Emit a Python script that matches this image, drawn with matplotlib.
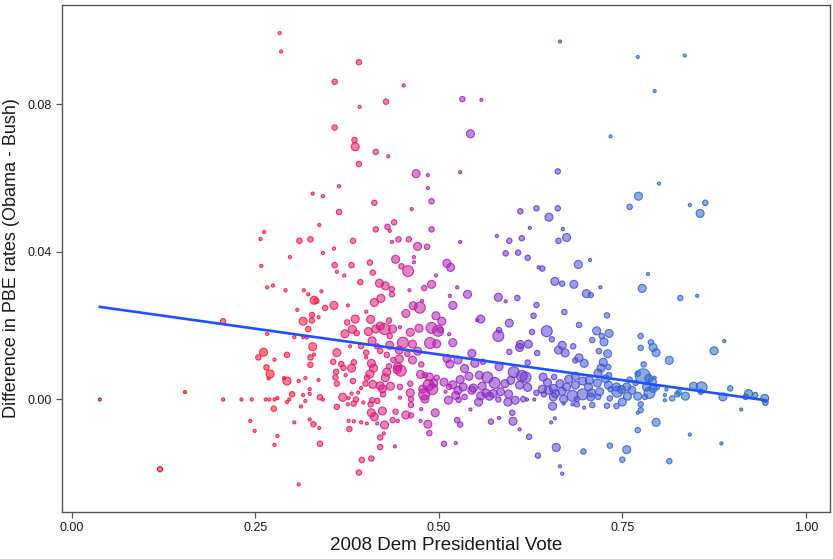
import matplotlib
matplotlib.use("Agg")
import matplotlib.pyplot as plt
import numpy as np
from matplotlib.colors import LinearSegmentedColormap

# 2008 Dem presidential vote share (x), PBE rate difference (y), size class (population weight)
vote = [
    0.038, 0.154, 0.206, 0.120, 0.206, 0.283, 0.285, 0.358, 0.358, 0.364,
    0.364, 0.328, 0.342, 0.337, 0.262, 0.257, 0.310, 0.325, 0.357, 0.297,
    0.342, 0.258, 0.358, 0.361, 0.266, 0.274, 0.291, 0.316, 0.322, 0.340,
    0.330, 0.333, 0.357, 0.345, 0.307, 0.327, 0.336, 0.315, 0.327, 0.322,
    0.266, 0.303, 0.315, 0.320, 0.328, 0.261, 0.254, 0.361, 0.293, 0.276,
    0.325, 0.330, 0.356, 0.325, 0.265, 0.270, 0.360, 0.359, 0.268, 0.289,
    0.293, 0.309, 0.318, 0.336, 0.361, 0.324, 0.300, 0.315, 0.324, 0.338,
    0.342, 0.231, 0.245, 0.264, 0.269, 0.276, 0.280, 0.296, 0.293, 0.318,
    0.361, 0.275, 0.312, 0.243, 0.303, 0.324, 0.329, 0.337, 0.249, 0.280,
    0.276, 0.338, 0.309,
    0.391, 0.452, 0.428, 0.392, 0.385, 0.386, 0.414, 0.431, 0.391, 0.469,
    0.485, 0.485, 0.490, 0.412, 0.463, 0.439, 0.414, 0.430, 0.433, 0.490,
    0.383, 0.436, 0.445, 0.459, 0.471, 0.484,
    0.441, 0.466, 0.466, 0.449, 0.458, 0.381, 0.406, 0.410, 0.371, 0.496,
    0.393, 0.419, 0.427, 0.436, 0.490, 0.480, 0.460, 0.436, 0.421, 0.412,
    0.477, 0.376, 0.401, 0.465, 0.474, 0.455, 0.496, 0.386, 0.375, 0.407,
    0.432, 0.420, 0.414, 0.426, 0.437, 0.447, 0.473, 0.490, 0.499, 0.382,
    0.372, 0.388, 0.404, 0.433, 0.461, 0.409, 0.451, 0.394, 0.416, 0.433,
    0.464, 0.488, 0.497, 0.379, 0.420, 0.446, 0.471, 0.401, 0.429, 0.457,
    0.401, 0.438, 0.446, 0.464, 0.384, 0.408, 0.367, 0.432, 0.444, 0.476,
    0.370, 0.381, 0.411, 0.443, 0.448, 0.406, 0.429, 0.475, 0.481, 0.487,
    0.497, 0.373, 0.427, 0.402, 0.383, 0.400, 0.410, 0.420, 0.434, 0.447,
    0.461, 0.486, 0.493, 0.394, 0.423, 0.478, 0.491, 0.381, 0.390, 0.424,
    0.461, 0.480, 0.369, 0.377, 0.387, 0.409, 0.416, 0.447, 0.462, 0.481,
    0.376, 0.384, 0.397, 0.407, 0.423, 0.441, 0.462, 0.476, 0.408, 0.412,
    0.455, 0.462, 0.495, 0.377, 0.384, 0.394, 0.402, 0.416, 0.426, 0.437,
    0.444, 0.475, 0.485, 0.378, 0.487, 0.425, 0.420, 0.440, 0.420, 0.395,
    0.408, 0.391,
    0.532, 0.558, 0.543, 0.529, 0.611, 0.633, 0.624, 0.579, 0.596, 0.613,
    0.529,
    0.591, 0.608, 0.621, 0.636, 0.511, 0.516, 0.525, 0.515, 0.539, 0.581,
    0.591, 0.607, 0.519, 0.633, 0.629, 0.557, 0.552, 0.596, 0.504, 0.502,
    0.514, 0.582, 0.581, 0.627, 0.519, 0.611, 0.622, 0.610, 0.596, 0.634,
    0.511, 0.545, 0.515, 0.526, 0.535, 0.549, 0.560, 0.582, 0.621, 0.555,
    0.566, 0.576, 0.602, 0.613, 0.618, 0.598, 0.507, 0.529, 0.541, 0.519,
    0.533, 0.559, 0.547, 0.590, 0.610, 0.621, 0.514, 0.564, 0.574, 0.584,
    0.595, 0.526, 0.545, 0.509, 0.633, 0.523, 0.513, 0.527, 0.535, 0.557,
    0.569, 0.581, 0.604, 0.615, 0.620, 0.630, 0.554, 0.594, 0.543, 0.600,
    0.525, 0.529, 0.571, 0.582, 0.601, 0.610, 0.623, 0.507, 0.523, 0.635,
    0.665, 0.771, 0.734, 0.662, 0.760, 0.772, 0.662, 0.650, 0.669, 0.663,
    0.674,
    0.690, 0.706, 0.641, 0.658, 0.668, 0.684, 0.720, 0.701, 0.707, 0.671,
    0.729, 0.691, 0.647, 0.654, 0.715, 0.722, 0.732, 0.725, 0.709, 0.668,
    0.683, 0.663, 0.672, 0.718, 0.730, 0.691, 0.686, 0.698, 0.724, 0.721,
    0.731, 0.717, 0.732, 0.771, 0.642, 0.657, 0.686, 0.677, 0.696, 0.705,
    0.727, 0.760, 0.648, 0.665, 0.716, 0.768, 0.656, 0.674, 0.686, 0.704,
    0.731, 0.742, 0.756, 0.641, 0.649, 0.668, 0.682, 0.696, 0.708, 0.719,
    0.749, 0.743, 0.763, 0.734, 0.659, 0.643, 0.656, 0.670, 0.688, 0.707,
    0.717, 0.733, 0.757, 0.771, 0.750, 0.670, 0.682, 0.688, 0.698, 0.709,
    0.729, 0.742, 0.655, 0.771, 0.653, 0.658, 0.771, 0.660, 0.697, 0.733,
    0.756, 0.750, 0.665, 0.668,
    0.835, 0.794, 0.800, 0.842, 0.863, 0.856,
    0.785, 0.777, 0.829, 0.852, 0.775, 0.789, 0.792, 0.796, 0.775, 0.889,
    0.875, 0.814, 0.779, 0.778, 0.786, 0.794, 0.791, 0.783, 0.792, 0.787,
    0.797, 0.781, 0.810, 0.808, 0.808, 0.818, 0.825, 0.827, 0.836, 0.847,
    0.858, 0.857, 0.887, 0.897, 0.922, 0.931, 0.918, 0.944, 0.945, 0.775,
    0.775, 0.912, 0.796, 0.842, 0.885, 0.814,
]

pbe_diff = [
    0.0000, 0.0020, 0.0000, -0.0189, 0.0212, 0.0993, 0.0943, 0.0861, 0.0737, 0.0578,
    0.0508, 0.0558, 0.0551, 0.0473, 0.0454, 0.0435, 0.0430, 0.0434, 0.0409, 0.0386,
    0.0397, 0.0362, 0.0364, 0.0346, 0.0304, 0.0309, 0.0296, 0.0296, 0.0285, 0.0293,
    0.0269, 0.0267, 0.0255, 0.0248, 0.0243, 0.0229, 0.0223, 0.0212, 0.0214, 0.0191,
    0.0178, 0.0169, 0.0169, 0.0168, 0.0143, 0.0128, 0.0114, 0.0127, 0.0121, 0.0108,
    0.0114, 0.0122, 0.0102, 0.0094, 0.0087, 0.0069, 0.0075, 0.0060, 0.0057, 0.0058,
    0.0050, 0.0050, 0.0058, 0.0053, 0.0043, 0.0028, 0.0014, 0.0012, 0.0015, 0.0006,
    0.0000, 0.0000, 0.0000, 0.0000, 0.0000, 0.0000, 0.0004, 0.0000, -0.0007, -0.0004,
    -0.0020, -0.0025, -0.0019, -0.0058, -0.0062, -0.0054, -0.0067, -0.0077, -0.0085, -0.0099,
    -0.0123, -0.0120, -0.0230,
    0.0914, 0.0851, 0.0807, 0.0793, 0.0703, 0.0685, 0.0671, 0.0659, 0.0638, 0.0612,
    0.0608, 0.0573, 0.0537, 0.0533, 0.0516, 0.0480, 0.0461, 0.0468, 0.0457, 0.0461,
    0.0430, 0.0427, 0.0434, 0.0434, 0.0415, 0.0414,
    0.0380, 0.0386, 0.0372, 0.0361, 0.0348, 0.0364, 0.0371, 0.0344, 0.0336, 0.0336,
    0.0318, 0.0315, 0.0308, 0.0299, 0.0312, 0.0302, 0.0296, 0.0285, 0.0274, 0.0263,
    0.0267, 0.0255, 0.0238, 0.0254, 0.0249, 0.0233, 0.0227, 0.0218, 0.0209, 0.0217,
    0.0214, 0.0199, 0.0191, 0.0191, 0.0191, 0.0196, 0.0193, 0.0194, 0.0186, 0.0190,
    0.0178, 0.0180, 0.0184, 0.0172, 0.0182, 0.0159, 0.0154, 0.0145, 0.0144, 0.0147,
    0.0150, 0.0153, 0.0151, 0.0144, 0.0132, 0.0134, 0.0131, 0.0127, 0.0121, 0.0124,
    0.0114, 0.0107, 0.0110, 0.0107, 0.0101, 0.0098, 0.0096, 0.0090, 0.0089, 0.0095,
    0.0086, 0.0085, 0.0085, 0.0081, 0.0078, 0.0069, 0.0074, 0.0068, 0.0066, 0.0061,
    0.0059, 0.0066, 0.0059, 0.0059, 0.0050, 0.0043, 0.0041, 0.0037, 0.0036, 0.0034,
    0.0043, 0.0039, 0.0044, 0.0031, 0.0029, 0.0028, 0.0028, 0.0016, 0.0019, 0.0014,
    0.0018, 0.0014, 0.0006, 0.0004, 0.0000, -0.0002, -0.0004, 0.0005, 0.0001, 0.0001,
    -0.0013, -0.0011, -0.0008, -0.0013, -0.0031, -0.0033, -0.0015, -0.0026, -0.0036, -0.0047,
    -0.0042, -0.0043, -0.0036, -0.0058, -0.0059, -0.0062, -0.0065, -0.0065, -0.0069, -0.0056,
    -0.0058, -0.0058, -0.0067, -0.0080, -0.0091, -0.0092, -0.0103, -0.0127, -0.0129, -0.0164,
    -0.0160, -0.0198,
    0.0814, 0.0812, 0.0720, 0.0616, 0.0510, 0.0518, 0.0465, 0.0443, 0.0430, 0.0437,
    0.0427,
    0.0396, 0.0398, 0.0384, 0.0358, 0.0369, 0.0358, 0.0304, 0.0281, 0.0285, 0.0277,
    0.0266, 0.0275, 0.0255, 0.0256, 0.0227, 0.0218, 0.0215, 0.0207, 0.0212, 0.0188,
    0.0177, 0.0188, 0.0172, 0.0183, 0.0154, 0.0149, 0.0150, 0.0141, 0.0129, 0.0126,
    0.0111, 0.0125, 0.0096, 0.0107, 0.0084, 0.0098, 0.0102, 0.0089, 0.0100, 0.0066,
    0.0060, 0.0045, 0.0074, 0.0064, 0.0060, 0.0052, 0.0047, 0.0054, 0.0063, 0.0040,
    0.0034, 0.0036, 0.0031, 0.0043, 0.0039, 0.0033, 0.0034, 0.0018, 0.0016, 0.0021,
    0.0015, 0.0025, 0.0025, 0.0021, 0.0018, 0.0011, -0.0002, -0.0001, 0.0007, 0.0010,
    0.0009, 0.0000, -0.0002, 0.0001, 0.0000, 0.0000, -0.0007, -0.0007, -0.0027, -0.0036,
    -0.0056, -0.0068, -0.0060, -0.0050, -0.0059, -0.0081, -0.0101, -0.0120, -0.0118, -0.0152,
    0.0970, 0.0928, 0.0713, 0.0618, 0.0522, 0.0551, 0.0518, 0.0494, 0.0462, 0.0430,
    0.0439,
    0.0366, 0.0378, 0.0355, 0.0320, 0.0314, 0.0312, 0.0304, 0.0287, 0.0283, 0.0237,
    0.0228, 0.0202, 0.0185, 0.0163, 0.0186, 0.0172, 0.0179, 0.0156, 0.0161, 0.0147,
    0.0144, 0.0134, 0.0126, 0.0131, 0.0124, 0.0113, 0.0106, 0.0098, 0.0101, 0.0085,
    0.0088, 0.0072, 0.0066, 0.0070, 0.0061, 0.0061, 0.0063, 0.0055, 0.0050, 0.0052,
    0.0056, 0.0054, 0.0046, 0.0043, 0.0045, 0.0045, 0.0030, 0.0034, 0.0039, 0.0034,
    0.0039, 0.0034, 0.0034, 0.0028, 0.0025, 0.0022, 0.0010, 0.0014, 0.0018, 0.0021,
    0.0027, 0.0021, 0.0025, 0.0028, 0.0016, 0.0014, 0.0007, 0.0001, 0.0001, 0.0007,
    0.0007, 0.0003, 0.0009, 0.0009, -0.0007, -0.0011, -0.0013, -0.0013, -0.0022, -0.0015,
    -0.0017, -0.0018, -0.0018, -0.0036, -0.0062, -0.0051, -0.0083, -0.0130, -0.0141, -0.0125,
    -0.0136, -0.0163, -0.0181, -0.0201,
    0.0932, 0.0836, 0.0585, 0.0527, 0.0533, 0.0504,
    0.0340, 0.0301, 0.0275, 0.0281, 0.0172, 0.0155, 0.0141, 0.0127, 0.0140, 0.0158,
    0.0132, 0.0106, 0.0095, 0.0063, 0.0057, 0.0059, 0.0048, 0.0034, 0.0030, 0.0018,
    0.0033, 0.0007, 0.0027, 0.0012, -0.0002, 0.0003, 0.0014, 0.0019, 0.0009, 0.0036,
    0.0033, 0.0021, 0.0007, 0.0030, 0.0016, 0.0012, 0.0007, 0.0003, -0.0009, -0.0013,
    -0.0029, -0.0027, -0.0062, -0.0095, -0.0119, -0.0167,
]

weight = [
    1, 1, 1, 2, 2, 1, 1, 2, 2, 1,
    2, 1, 1, 1, 1, 1, 2, 2, 1, 1,
    1, 1, 2, 1, 1, 1, 1, 1, 1, 1,
    3, 2, 3, 2, 1, 2, 1, 3, 2, 2,
    1, 1, 1, 1, 3, 3, 2, 3, 2, 1,
    2, 1, 2, 2, 2, 3, 2, 2, 1, 1,
    3, 1, 1, 1, 2, 1, 2, 1, 1, 2,
    1, 1, 1, 1, 1, 1, 1, 1, 1, 1,
    2, 2, 1, 1, 1, 1, 2, 1, 1, 1,
    1, 2, 1,
    2, 1, 2, 1, 2, 3, 2, 1, 2, 3,
    1, 1, 2, 2, 1, 2, 2, 2, 1, 2,
    2, 1, 2, 2, 3, 2,
    3, 1, 1, 2, 4, 2, 2, 2, 1, 1,
    2, 3, 3, 2, 3, 2, 1, 2, 3, 3,
    1, 1, 1, 3, 4, 3, 3, 3, 2, 3,
    2, 3, 3, 4, 3, 1, 3, 4, 4, 3,
    3, 2, 3, 2, 3, 3, 4, 2, 2, 3,
    3, 4, 3, 1, 2, 3, 3, 2, 2, 2,
    1, 2, 3, 3, 2, 3, 2, 2, 3, 2,
    2, 3, 3, 3, 4, 3, 3, 3, 2, 3,
    2, 1, 3, 2, 2, 2, 3, 3, 3, 2,
    2, 4, 3, 1, 3, 3, 4, 1, 1, 2,
    3, 4, 3, 1, 2, 2, 2, 1, 2, 3,
    1, 2, 1, 2, 3, 2, 2, 1, 3, 3,
    3, 2, 3, 1, 1, 1, 1, 1, 3, 2,
    1, 1, 3, 2, 2, 1, 2, 1, 2, 2,
    2, 2,
    2, 1, 3, 1, 2, 2, 1, 1, 2, 2,
    1,
    2, 2, 2, 1, 3, 3, 1, 1, 3, 3,
    1, 2, 3, 2, 2, 3, 1, 3, 3, 2,
    1, 2, 4, 2, 3, 3, 3, 3, 2, 2,
    3, 3, 3, 3, 3, 3, 2, 3, 2, 3,
    4, 4, 4, 4, 4, 3, 3, 3, 3, 3,
    3, 3, 3, 3, 3, 3, 2, 3, 3, 3,
    3, 3, 3, 1, 2, 3, 3, 2, 2, 3,
    3, 2, 3, 2, 1, 1, 3, 3, 1, 2,
    2, 2, 2, 1, 3, 1, 2, 2, 1, 2,
    1, 1, 1, 2, 2, 3, 2, 3, 1, 2,
    3,
    3, 1, 2, 3, 2, 3, 1, 3, 2, 2,
    2, 2, 4, 2, 3, 2, 3, 3, 2, 3,
    2, 3, 3, 2, 3, 3, 2, 3, 3, 3,
    2, 3, 2, 2, 3, 2, 3, 3, 3, 3,
    3, 2, 3, 3, 3, 2, 3, 3, 3, 3,
    3, 3, 3, 3, 3, 3, 4, 4, 3, 3,
    3, 4, 3, 2, 3, 2, 3, 3, 2, 3,
    2, 2, 3, 3, 3, 1, 1, 2, 1, 2,
    2, 2, 3, 1, 1, 1, 2, 3, 2, 2,
    3, 2, 1, 1,
    1, 1, 1, 1, 2, 3,
    1, 3, 2, 1, 2, 2, 3, 3, 2, 1,
    3, 3, 2, 5, 3, 1, 3, 3, 3, 4,
    2, 2, 1, 1, 1, 2, 2, 2, 3, 3,
    4, 2, 3, 2, 3, 2, 2, 3, 2, 2,
    2, 1, 3, 1, 1, 2,
]

# fitted linear trend (lm) endpoints
fit_vote = [0.038, 0.945]
fit_diff = [0.0251, -0.0002]

x_ticks = [0.00, 0.25, 0.50, 0.75, 1.00]
x_ticklabels = ["0.00", "0.25", "0.50", "0.75", "1.00"]
y_ticks = [0.00, 0.04, 0.08]
y_ticklabels = ["0.00", "0.04", "0.08"]

plt.rcParams['font.family'] = ['Liberation Sans', 'DejaVu Sans']

vote = np.array(vote)
pbe_diff = np.array(pbe_diff)
weight = np.array(weight)
area = {1: 5, 2: 15, 3: 33, 4: 62, 5: 115}
sizes = np.array([area[w] for w in weight])

cmap = LinearSegmentedColormap.from_list("vote", [
    (0.00, "#a01828"), (0.15, "#d8101e"), (0.27, "#ff1430"), (0.37, "#f01858"),
    (0.46, "#c81c98"), (0.53, "#9a22c4"), (0.62, "#6a36cc"), (0.72, "#3e58d4"),
    (0.82, "#2a6ccc"), (1.00, "#22609e")])
face = cmap(vote)
face[:, 3] = 0.55
edge = cmap(vote)
edge[:, 3] = 0.85

fig = plt.figure(figsize=(8.33, 5.59), dpi=100)
ax = fig.add_axes([0.0744, 0.084, 0.922, 0.907])

ax.scatter(vote, pbe_diff, s=sizes, facecolors=face, edgecolors=edge,
           linewidths=0.8, zorder=2)
ax.plot(fit_vote, fit_diff, color="#1f50ff", lw=1.9, zorder=3)

ax.set_xlim(-0.0136, 1.033)
ax.set_ylim(-0.0305, 0.1069)
ax.set_xticks(x_ticks)
ax.set_xticklabels(x_ticklabels)
ax.set_yticks(y_ticks)
ax.set_yticklabels(y_ticklabels)

for sp in ax.spines.values():
    sp.set_color("#555555")
    sp.set_linewidth(1.0)
ax.tick_params(direction="out", length=4, width=0.9, color="#555555",
               labelsize=9, labelcolor="#1a1a1a")

ax.set_xlabel("2008 Dem Presidential Vote", fontsize=13.5, color="#1a1a1a", labelpad=2)
ax.set_ylabel("Difference in PBE rates (Obama - Bush)", fontsize=13, color="#1a1a1a", labelpad=5)

fig.savefig("out.png", dpi=100)
